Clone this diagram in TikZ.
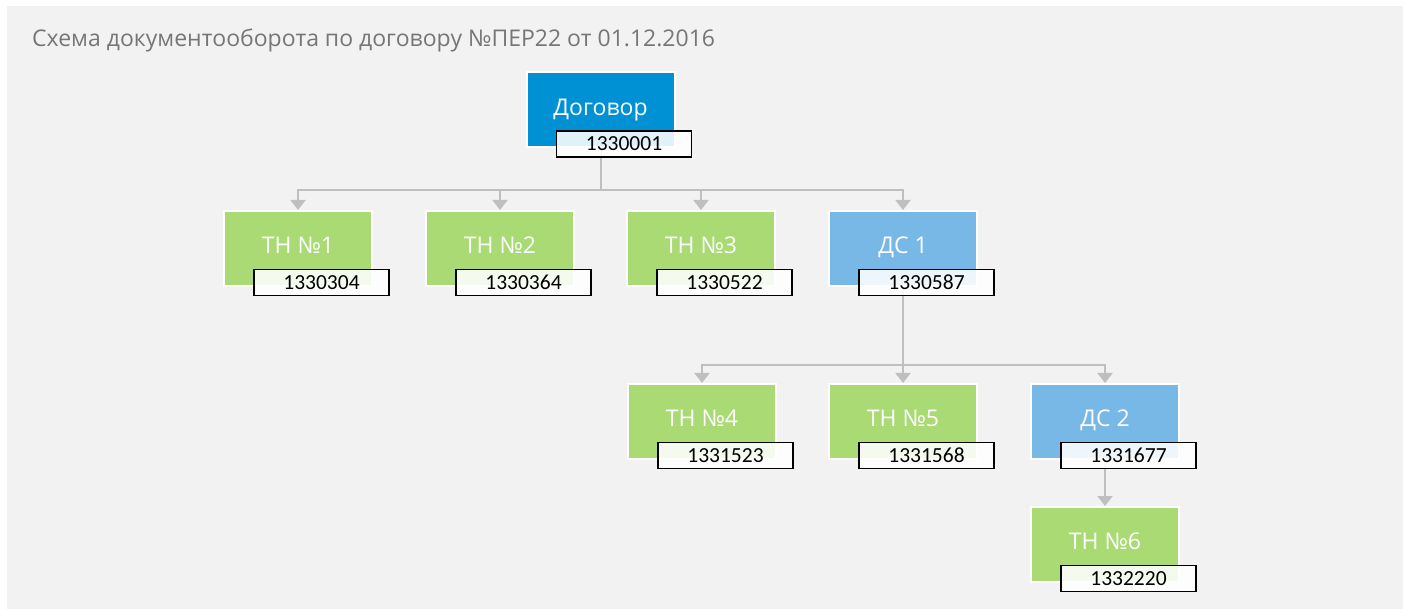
\documentclass[tikz,border=0pt]{standalone}
\usepackage{fontspec}
\setmainfont{Open Sans}
\newfontfamily\numfont{Carlito}
\usetikzlibrary{arrows.meta,calc}
\definecolor{bggray}{RGB}{242,242,242}
\definecolor{dogblue}{RGB}{0,145,213}
\definecolor{dsblue}{RGB}{120,184,230}
\definecolor{thgreen}{RGB}{169,218,116}
\definecolor{conngray}{RGB}{191,191,191}
\definecolor{titlegray}{RGB}{118,118,118}
\tikzset{
  docbox/.style={draw=white, line width=2pt, minimum width=148pt, minimum height=75pt,
    inner sep=0pt, text=white, font=\fontsize{23}{27}\selectfont, text depth=6pt},
  dogbox/.style={docbox, fill=dogblue},
  dsbox/.style={docbox, fill=dsblue},
  thbox/.style={docbox, fill=thgreen},
  numbox/.style={draw=black, line width=1.4pt, fill=white, fill opacity=0.88, text opacity=1,
    minimum width=135pt, minimum height=26pt, inner sep=0pt,
    font=\numfont\fontsize{21.5}{24}\selectfont},
  conn/.style={draw=conngray, line width=2pt},
  arr/.style={conn, -{Triangle[width=15pt,length=10pt]}}
}
\begin{document}
\begin{tikzpicture}[x=1pt,y=-1pt]
\useasboundingbox (0,0) rectangle (1403,609);
\fill[white] (0,0) rectangle (1403,609);
\fill[bggray] (7,6) rectangle (1403,609);
\node[anchor=base west, text=titlegray, font=\fontsize{23}{27}\selectfont, inner sep=0pt] (title) at (32,47) {Схема документооборота по договору №ПЕР22 от 01.12.2016};
% boxes
\node[dogbox] (d0) at (600.5,110) {Договор};
\node[thbox] (t1) at (298,248.5) {ТН №1};
\node[thbox] (t2) at (500,248.5) {ТН №2};
\node[thbox] (t3) at (701,248.5) {ТН №3};
\node[dsbox] (ds1) at (903,248.5) {ДС 1};
\node[thbox] (t4) at (702,421.5) {ТН №4};
\node[thbox] (t5) at (903,421.5) {ТН №5};
\node[dsbox] (ds2) at (1105,421.5) {ДС 2};
\node[thbox] (t6) at (1105,544.5) {ТН №6};
% junctions
\coordinate (j0) at (600.5,190);
\coordinate (j1) at (903,365);
% connectors
\draw[conn] (d0.south) -- (j0);
\draw[arr] (j0) -| (t1.north);
\draw[arr] (j0) -| (t2.north);
\draw[arr] (j0) -| (t3.north);
\draw[arr] (j0) -| (ds1.north);
\draw[conn] (ds1.south) -- (j1);
\draw[arr] (j1) -| (t4.north);
\draw[arr] (j1) -- (t5.north);
\draw[arr] (j1) -| (ds2.north);
\draw[arr] (ds2.south) -- (t6.north);
% number labels
\node[numbox] (n0) at ($(d0.center)+(23.5,34)$) {1330001};
\node[numbox] (n1) at ($(t1.center)+(23.5,34)$) {1330304};
\node[numbox] (n2) at ($(t2.center)+(23.5,34)$) {1330364};
\node[numbox] (n3) at ($(t3.center)+(23.5,34)$) {1330522};
\node[numbox] (n4) at ($(ds1.center)+(23.5,34)$) {1330587};
\node[numbox] (n5) at ($(t4.center)+(23.5,34)$) {1331523};
\node[numbox] (n6) at ($(t5.center)+(23.5,34)$) {1331568};
\node[numbox] (n7) at ($(ds2.center)+(23.5,34)$) {1331677};
\node[numbox] (n8) at ($(t6.center)+(23.5,34)$) {1332220};
\end{tikzpicture}
\end{document}
